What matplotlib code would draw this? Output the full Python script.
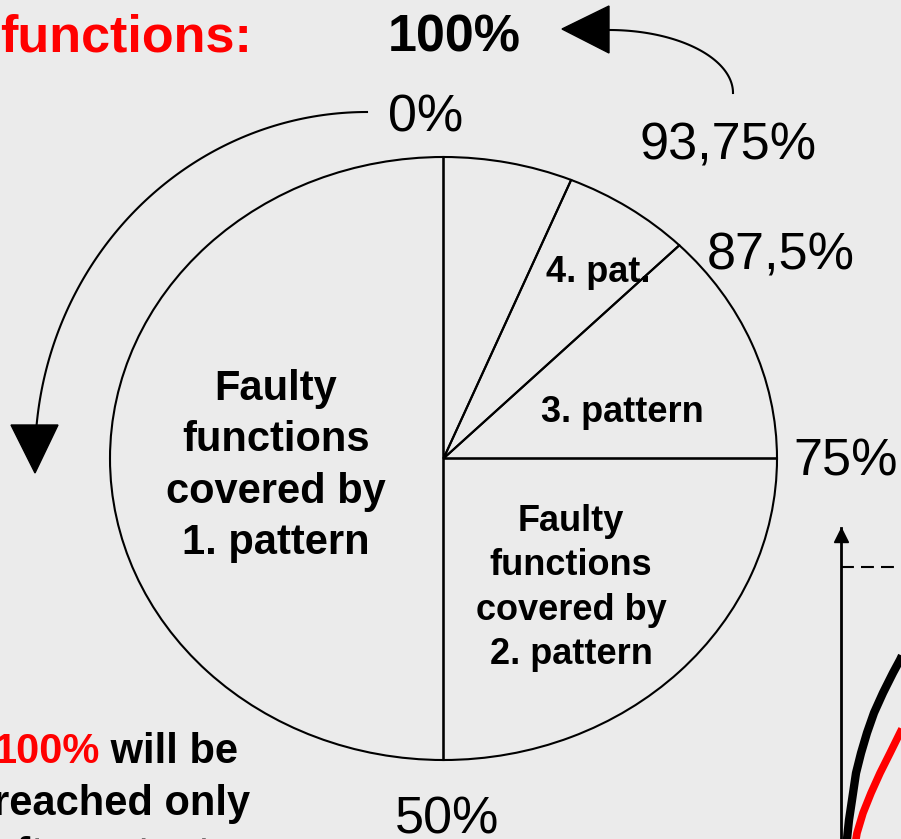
import matplotlib
matplotlib.use("Agg")
import matplotlib.pyplot as plt
import numpy as np
from matplotlib.patches import Polygon

plt.rcParams['font.family'] = ['Liberation Sans', 'DejaVu Sans']

# --- data ---
# share of the faulty functions caught by each test pattern (percent)
shares = [50, 25, 12.5, 6.25, 6.25]
slice_names = ["Faulty\nfunctions\ncovered by\n1. pattern",
               "Faulty\nfunctions\ncovered by\n2. pattern",
               "3. pattern", "4. pat.", ""]
# cumulative coverage written round the pie
boundary_labels = ["0%", "50%", "75%", "87,5%", "93,75%"]

# small coverage curves bottom right (partly cut off)
black_x = [0.2, 0.3, 0.4, 0.55, 0.75, 1.0, 1.3, 1.65, 2.1, 2.6, 2.95, 3.1]
black_y = [10.0, 18.3, 24.0, 30.0, 38.1, 44.1, 50.2, 56.2, 62.2, 68.2, 72.1, 74.0]
red_x = [0.6, 0.75, 0.8, 1.1, 1.5, 1.95, 2.45, 2.95, 3.1]
red_y = [10.0, 18.3, 20.1, 26.1, 32.1, 38.1, 44.1, 50.2, 52.0]

BG = '#ebebeb'
RED = '#ff0000'
W, H = 901, 839

fig = plt.figure(figsize=(W / 100, H / 100), dpi=100, facecolor=BG)

# pie in its own axes, stretched to the slightly flat ellipse of the slide
pax = fig.add_axes([110 / W, 1 - 760 / H, 667 / W, 603 / H])
wedges, _ = pax.pie(shares, startangle=90, counterclock=True, radius=1,
                    wedgeprops=dict(facecolor='none', edgecolor='black', linewidth=1.5))
for w in wedges:
    w.set_clip_on(False)
pax.set_aspect('auto')
pax.set_xlim(-1, 1)
pax.set_ylim(-1, 1)
pax.axis('off')

# overlay in pixel coordinates for the texts and arrows
ax = fig.add_axes([0, 0, 1, 1])
ax.set_xlim(0, W)
ax.set_ylim(H, 0)
ax.axis('off')

# slice texts
ax.text(276, 466, slice_names[0], ha='center', va='center', fontsize=30,
        fontweight='bold', linespacing=1.36)
ax.text(571, 588, slice_names[1], ha='center', va='center', fontsize=26,
        fontweight='bold', linespacing=1.35)
ax.text(622, 412, slice_names[2], ha='center', va='center', fontsize=26, fontweight='bold')
ax.text(598, 273, slice_names[3], ha='center', va='center', fontsize=26, fontweight='bold')

# percent marks
pct_pos = [(388, 131), (395, 834), (793, 475), (707, 270), (640, 160)]
for lab, (x, y) in zip(boundary_labels, pct_pos):
    ax.text(x, y, lab, ha='left', va='baseline', fontsize=37.5)
ax.text(388, 52, "100%", ha='left', va='baseline', fontsize=37.5, fontweight='bold')
ax.text(0, 51, "functions:", ha='left', va='baseline', fontsize=37.5,
        fontweight='bold', color=RED)

# left arrow: 0% -> round to the left
t = np.radians(np.linspace(90, 174.4, 100))
ax.plot(367 + 332 * np.cos(t), 459 - 347 * np.sin(t), color='black', lw=1.5)
ax.add_patch(Polygon([(11, 425), (58, 425), (35, 473)], closed=True, color='black'))

# right arrow: 93,75% -> 100%
t = np.radians(np.linspace(0, 90, 100))
ax.plot(609 + 124 * np.cos(t), 93 - 63 * np.sin(t), color='black', lw=1.5)
ax.add_patch(Polygon([(609, 6), (609, 53), (562, 29)], closed=True, color='black'))

# bottom-left note
t1 = ax.text(-7, 763, "100%", ha='left', va='baseline', fontsize=30,
             fontweight='bold', color=RED)
ax.annotate(" will be", xy=(1, 0), xycoords=t1, ha='left', va='bottom',
            fontsize=30, fontweight='bold')
ax.text(-7, 815, "reached only", ha='left', va='baseline', fontsize=30, fontweight='bold')
t3 = ax.text(-7, 867, "after ", ha='left', va='baseline', fontsize=30, fontweight='bold')
t4 = ax.annotate("\u221e", xy=(1, 0), xycoords=t3, ha='left', va='bottom',
                 fontsize=30, fontweight='bold', color=RED)
ax.annotate(" tests", xy=(1, 0), xycoords=t4, ha='left', va='bottom',
            fontsize=30, fontweight='bold')

# coverage sketch, lower right
cax = fig.add_axes([841 / W, (H - 900) / H, 60 / W, 372 / H])
cax.set_xlim(0, 3)
cax.set_ylim(0, 372 / 3.33)
cax.patch.set_visible(False)
for s in ['top', 'right', 'bottom']:
    cax.spines[s].set_visible(False)
cax.spines['left'].set_linewidth(2)
cax.set_xticks([])
cax.set_yticks([])
cax.plot([0], [109.6], marker='^', ms=10, color='black', clip_on=False)
cax.axhline(100, color='black', lw=1.5, ls=(0, (6.2, 3.4)))
cax.plot(black_x, black_y, color='black', lw=6, solid_capstyle='butt')
cax.plot(red_x, red_y, color=RED, lw=5.5, solid_capstyle='butt')

fig.savefig("out.png", dpi=100, facecolor=BG)
